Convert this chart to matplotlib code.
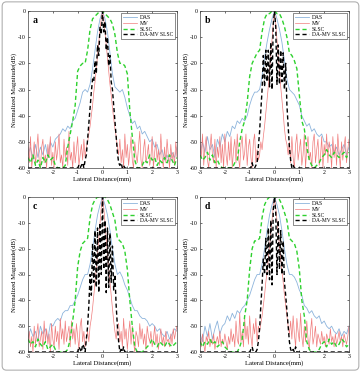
import numpy as np
import matplotlib
matplotlib.use("Agg")
import matplotlib.pyplot as plt
from matplotlib.patches import FancyBboxPatch

plt.rcParams['font.family'] = ['Liberation Serif', 'DejaVu Serif']
plt.rcParams['axes.unicode_minus'] = False

PANELS = ["a", "b", "c", "d"]
LABELS = ["DAS", "MV", "SLSC", "DA-MV SLSC"]
XTICKS = [-3, -2, -1, 0, 1, 2, 3]
YTICKS = [0, -10, -20, -30, -40, -50, -60]

# DAS / SLSC sampled every 0.1 mm from -3 to 3
das_a = [-55, -52, -57, -51, -56, -52, -55, -51, -56, -50, -52, -49, -48, -47, -45, -46, -44, -45, -42, -41,
         -38, -35, -31, -30, -31, -28, -22, -15, -8, -3, 0,
         -3, -8, -16, -24, -29, -30, -31, -30, -33, -37, -40, -43, -42, -45, -44, -47, -46, -48, -50, -49,
         -52, -51, -55, -53, -57, -55, -58, -54, -56, -52]
das_b = [-55, -50, -54, -48, -53, -51, -56, -49, -52, -47, -50, -46, -48, -44, -45, -42, -43, -41, -42, -40,
         -36, -33, -31, -31, -30, -25, -18, -12, -7, -3, 0,
         -3, -7, -12, -19, -26, -30, -31, -32, -34, -36, -40, -42, -44, -43, -46, -45, -47, -48, -47, -50,
         -50, -52, -51, -54, -52, -55, -53, -51, -55, -52]
das_c = [-55, -51, -54, -52, -56, -50, -53, -51, -55, -49, -50, -48, -47, -48, -45, -44, -44, -42, -42, -40,
         -38, -35, -32, -30, -30, -26, -20, -13, -7, -3, 0,
         -3, -7, -13, -20, -26, -30, -29, -31, -34, -36, -39, -42, -44, -44, -46, -47, -47, -48, -50, -49,
         -50, -52, -51, -53, -54, -52, -55, -53, -51, -52]
das_d = [-53, -56, -50, -54, -49, -55, -51, -48, -53, -50, -49, -46, -48, -45, -47, -44, -45, -43, -42, -40,
         -38, -35, -32, -30, -30, -26, -20, -13, -7, -3, 0,
         -3, -7, -13, -20, -26, -30, -30, -31, -33, -36, -38, -42, -43, -45, -44, -46, -47, -46, -49, -48,
         -50, -51, -50, -52, -53, -51, -54, -52, -53, -50]

slsc_a = [-56, -58, -55, -59, -57, -60, -56, -58, -55, -57, -56, -59, -60, -60, -60, -59, -52, -47, -42, -36,
          -23, -21, -20, -20, -15, -7, -3, -2, -1, 0, 0,
          -1, -2, -3, -5, -9, -16, -20, -20, -21, -24, -38, -48, -57, -60, -60, -59, -57, -58, -55, -57,
          -56, -59, -57, -58, -56, -58, -55, -57, -59, -56]
slsc_b = [-55, -57, -56, -54, -57, -55, -58, -57, -59, -60, -60, -60, -60, -60, -58, -57, -50, -45, -42, -35,
          -25, -20, -18, -16, -15, -8, -3, -1, -1, 0, 0,
          -1, -1, -3, -6, -10, -16, -17, -19, -22, -32, -42, -45, -52, -57, -59, -60, -59, -58, -56, -55,
          -53, -55, -56, -54, -55, -56, -55, -54, -56, -54]
slsc_c = [-55, -57, -56, -58, -55, -57, -58, -56, -59, -58, -57, -59, -60, -60, -60, -60, -59, -55, -48, -40,
          -27, -21, -18, -17, -16, -8, -3, -1, 0, 0, 0,
          0, -1, -3, -6, -9, -16, -17, -18, -21, -28, -40, -50, -58, -60, -60, -60, -59, -58, -57, -55,
          -57, -58, -56, -57, -58, -56, -57, -58, -57, -56]
slsc_d = [-56, -58, -56, -57, -55, -57, -56, -58, -57, -56, -58, -59, -60, -60, -60, -60, -58, -55, -46, -40,
          -28, -20, -17, -17, -16, -8, -3, -1, 0, 0, 0,
          0, -1, -3, -6, -9, -16, -17, -18, -21, -28, -40, -46, -56, -59, -60, -60, -60, -59, -57, -56,
          -58, -55, -57, -56, -58, -57, -55, -56, -58, -57]

# MV sampled every 0.05 mm from -3 to 3
mv_a = [-52, -58, -48, -60, -55, -50, -59, -53, -47, -57, -60, -52, -49, -58, -55, -60,
        -51, -56, -48, -59, -54, -60, -50, -57, -53, -47, -58, -55, -60, -49, -56, -52,
        -59, -46, -57, -54, -60, -50, -58, -53, -48, -59, -55, -51, -57, -49, -56, -52,
        -50, -47, -44, -40, -36, -31, -27, -22, -17, -12, -7, -3, 0, -3, -8, -13, -18, -23, -28, -32,
        -37, -41, -45, -48, -52,
        -55, -49, -58, -53, -60, -47, -56, -51, -59, -54, -48, -57, -60, -50, -55, -58,
        -52, -46, -57, -60, -53, -49, -58, -55, -51, -59, -56, -48, -60, -54, -50, -57,
        -53, -59, -47, -56, -60, -52, -58, -49, -55, -60, -51, -57, -54, -59, -50, -56]
mv_b = [-50, -56, -47, -59, -52, -48, -57, -60, -53, -47, -55, -58, -49, -60, -52, -56,
        -48, -58, -51, -60, -47, -55, -59, -50, -57, -48, -60, -53, -49, -58, -47, -56,
        -60, -51, -48, -57, -54, -47, -59, -52, -49, -56, -60, -50, -47, -58, -53, -57,
        -55, -50, -53, -48, -44, -39, -34, -29, -23, -17, -11, -5, 0, -5, -11, -17, -23, -29, -34, -39,
        -45, -49, -51, -55, -50,
        -58, -48, -56, -60, -51, -47, -57, -53, -49, -59, -55, -47, -60, -52, -48, -57,
        -54, -60, -50, -47, -58, -53, -49, -59, -56, -48, -60, -51, -55, -47, -58, -50,
        -53, -60, -48, -56, -51, -59, -47, -54, -60, -50, -57, -52, -48, -58, -53, -49]
mv_c = [-56, -52, -58, -54, -60, -50, -57, -53, -49, -58, -55, -52, -59, -48, -56, -51,
        -57, -53, -60, -49, -55, -58, -50, -56, -52, -59, -47, -55, -51, -57, -48, -56,
        -53, -50, -58, -48, -55, -51, -57, -49, -54, -59, -50, -47, -56, -52, -58, -55,
        -52, -56, -50, -47, -43, -38, -33, -28, -22, -16, -10, -4, 0, -4, -10, -16, -22, -28, -33, -38,
        -43, -48, -52, -55, -50,
        -49, -56, -52, -58, -47, -55, -51, -59, -53, -48, -57, -50, -56, -60, -52, -54,
        -58, -49, -55, -51, -57, -53, -59, -50, -54, -56, -52, -58, -55, -50, -57, -53,
        -59, -55, -51, -57, -54, -58, -52, -56, -55, -58, -53, -57, -51, -55, -52, -50]
mv_d = [-55, -58, -53, -57, -60, -54, -56, -52, -58, -55, -57, -53, -59, -56, -54, -57,
        -52, -58, -55, -57, -53, -56, -59, -54, -57, -51, -56, -53, -58, -48, -55, -57,
        -45, -56, -52, -58, -47, -55, -50, -57, -46, -54, -58, -49, -53, -47, -56, -50,
        -52, -49, -46, -42, -38, -33, -29, -24, -19, -14, -9, -4, 0, -4, -9, -14, -19, -24, -29, -33,
        -38, -42, -46, -50, -53,
        -48, -55, -46, -53, -58, -47, -52, -56, -45, -54, -58, -50, -56, -48, -55, -59,
        -52, -47, -57, -54, -50, -58, -53, -55, -57, -52, -56, -54, -58, -53, -55, -57,
        -51, -56, -54, -58, -53, -57, -55, -52, -56, -54, -58, -53, -55, -57, -54, -50]

# DA-MV SLSC sampled every 0.05 mm from -1 to 1 (flat -60 outside)
dm_a = [-60, -59, -60, -59, -58, -60, -57, -55, -49, -43, -37, -31, -26, -27, -19, -24, -13, -17, -6, -9, 0,
        -8, -4, -15, -10, -21, -17, -27, -30, -36, -42, -48, -54, -58, -59, -58, -60, -59, -60, -60, -60]
dm_b = [-60, -60, -58, -60, -60, -59, -58, -52, -46, -38, -30, -17, -29, -15, -27, -15, -29, -12, -30, -5, 0,
        -6, -28, -13, -28, -15, -27, -16, -30, -20, -36, -44, -52, -57, -60, -59, -60, -60, -60, -60, -60]
dm_c = [-60, -58, -59, -60, -57, -58, -60, -55, -50, -42, -30, -38, -18, -33, -13, -35, -12, -37, -10, -30, 0,
        -28, -9, -37, -12, -35, -14, -33, -19, -36, -30, -42, -50, -56, -60, -59, -60, -58, -60, -60, -60]
dm_d = [-60, -59, -58, -60, -60, -60, -59, -56, -51, -42, -34, -24, -30, -16, -30, -12, -32, -9, -34, -5, 0,
        -6, -30, -9, -28, -13, -30, -17, -33, -38, -44, -50, -56, -59, -60, -59, -60, -58, -60, -60, -60]

DAS = [das_a, das_b, das_c, das_d]
MV = [mv_a, mv_b, mv_c, mv_d]
SLSC = [slsc_a, slsc_b, slsc_c, slsc_d]
DAMV = [dm_a, dm_b, dm_c, dm_d]

W, H = 361, 372
fig = plt.figure(figsize=(W / 100, H / 100), dpi=100)
border = FancyBboxPatch((0.006, 0.005), 0.988, 0.99, boxstyle="round,pad=0,rounding_size=0.012",
                        transform=fig.transFigure, fc="none", ec="#b0b0b0", lw=0.8, zorder=-1)
fig.patches.append(border)

# axes rectangles in pixels: left, top, right, bottom
boxes = [(28, 11, 177, 168), (200, 11, 349, 168), (28, 197, 177, 352), (200, 197, 349, 352)]

for i, p in enumerate(PANELS):
    l, t, r, b = boxes[i]
    ax = fig.add_axes([l / W, 1 - b / H, (r - l) / W, (b - t) / H])
    x1 = np.linspace(-3, 3, len(DAS[i]))
    x2 = np.linspace(-3, 3, len(MV[i]))
    x3 = np.linspace(-3, 3, len(SLSC[i]))
    x4 = np.concatenate([[-3], np.linspace(-1, 1, len(DAMV[i])), [3]])
    y4 = np.concatenate([[-60], DAMV[i], [-60]])
    ax.plot(x1, DAS[i], color="#8db4dc", lw=0.6, label=LABELS[0])
    ax.plot(x2, MV[i], color="#f07c7c", lw=0.5, label=LABELS[1])
    ax.plot(x3, SLSC[i], color="#2ed12e", lw=1.0, ls=(0, (3, 2)), label=LABELS[2])
    ax.plot(x4, y4, color="black", lw=1.0, ls=(0, (3, 2)), label=LABELS[3])
    ax.set_xlim(-3, 3)
    ax.set_ylim(-60, 0)
    ax.set_xticks(XTICKS)
    ax.set_yticks(YTICKS)
    ax.set_xticklabels([str(v) for v in XTICKS])
    ax.set_yticklabels([str(v) for v in YTICKS])
    ax.tick_params(direction="in", length=1.5, width=0.4, labelsize=4.2, pad=1.5, top=True, right=True)
    for s in ax.spines.values():
        s.set_linewidth(0.5)
        s.set_color("#444444")
    ax.set_xlabel("Lateral Distance(mm)", fontsize=4.8, labelpad=1)
    ax.set_ylabel("Normalized Magnitude(dB)", fontsize=4.8, labelpad=1)
    ax.text(0.03, 0.97, p, transform=ax.transAxes, fontsize=7, fontweight="bold", va="top", ha="left")
    leg = ax.legend(loc="upper right", fontsize=4.0, handlelength=2.6, borderpad=0.3, labelspacing=0.15,
                    handletextpad=0.5, borderaxespad=0.4, fancybox=False, framealpha=1)
    leg.get_frame().set_edgecolor("#333333")
    leg.get_frame().set_linewidth(0.4)

fig.savefig("out.png", dpi=100)
